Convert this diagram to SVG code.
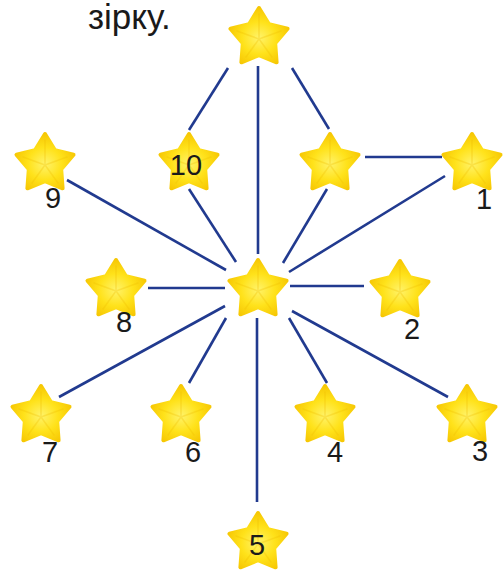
<svg xmlns="http://www.w3.org/2000/svg" width="503" height="570" viewBox="0 0 503 570">
<style>
.lbl{font-family:"Liberation Sans",Arial,sans-serif;font-size:29px;fill:#1a1a1a;text-anchor:middle}
.ttl{font-family:"Liberation Sans",Arial,sans-serif;font-size:35px;fill:#1a1a1a}
.con line{stroke:#213a8f;stroke-width:2.6;stroke-linecap:butt}
.st{fill:url(#sg);stroke:url(#sg);stroke-width:4;stroke-linejoin:round}
.fac{stroke:#eebc00;stroke-width:1.5;opacity:0.3;fill:none;stroke-linecap:round}
</style>
<defs>
<radialGradient id="sg" cx="0.5" cy="0.55" r="0.6">
<stop offset="0" stop-color="#fff36a"/>
<stop offset="0.5" stop-color="#ffe21a"/>
<stop offset="1" stop-color="#f5c300"/>
</radialGradient>
<g id="star">
<polygon class="st" points="0,-30 10,-13.8 28.5,-9.3 16.2,5.3 17.6,24.3 0,17.2 -17.6,24.3 -16.2,5.3 -28.5,-9.3 -10,-13.8"/>
<path class="fac" d="M0,-24 L0,1 M22,-7 L0,1 M13,19 L0,1 M-13,19 L0,1 M-22,-7 L0,1"/>
</g>
</defs>
<rect width="503" height="570" fill="#ffffff"/>
<text class="ttl" x="88" y="29">зірку.</text>
<g id="connectors" class="con">
<line x1="228" y1="68" x2="189" y2="130"/>
<line x1="258" y1="66" x2="258" y2="254"/>
<line x1="292" y1="68" x2="329" y2="129"/>
<line x1="365" y1="157" x2="442" y2="157"/>
<line x1="189" y1="189" x2="236" y2="262"/>
<line x1="327" y1="189" x2="283" y2="263"/>
<line x1="67" y1="180" x2="226" y2="270"/>
<line x1="445" y1="176" x2="289" y2="272"/>
<line x1="148" y1="288" x2="225" y2="288"/>
<line x1="290" y1="286" x2="364" y2="286"/>
<line x1="225" y1="306" x2="59" y2="397"/>
<line x1="226" y1="318" x2="189" y2="383"/>
<line x1="289" y1="318" x2="327" y2="383"/>
<line x1="292" y1="311" x2="448" y2="397"/>
<line x1="257" y1="318" x2="257" y2="502"/>
</g>
<g id="star-top"><use href="#star" x="259" y="38"/></g>
<g id="star-10"><use href="#star" x="189" y="164"/><text class="lbl" x="186" y="175">10</text></g>
<g id="star-upper-right"><use href="#star" x="330" y="164"/></g>
<g id="star-1"><use href="#star" x="472" y="164"/><text class="lbl" x="484" y="209">1</text></g>
<g id="star-9"><use href="#star" x="45" y="164"/><text class="lbl" x="53" y="208">9</text></g>
<g id="star-center"><use href="#star" x="258" y="290"/></g>
<g id="star-8"><use href="#star" x="116" y="290"/><text class="lbl" x="124" y="332">8</text></g>
<g id="star-2"><use href="#star" x="400" y="291"/><text class="lbl" x="412" y="339">2</text></g>
<g id="star-7"><use href="#star" x="41" y="416"/><text class="lbl" x="50" y="462">7</text></g>
<g id="star-6"><use href="#star" x="181" y="416"/><text class="lbl" x="193" y="462">6</text></g>
<g id="star-4"><use href="#star" x="325" y="416"/><text class="lbl" x="335" y="462">4</text></g>
<g id="star-3"><use href="#star" x="467" y="416"/><text class="lbl" x="480" y="461">3</text></g>
<g id="star-5"><use href="#star" x="258" y="543"/><text class="lbl" x="257" y="555">5</text></g>
</svg>
